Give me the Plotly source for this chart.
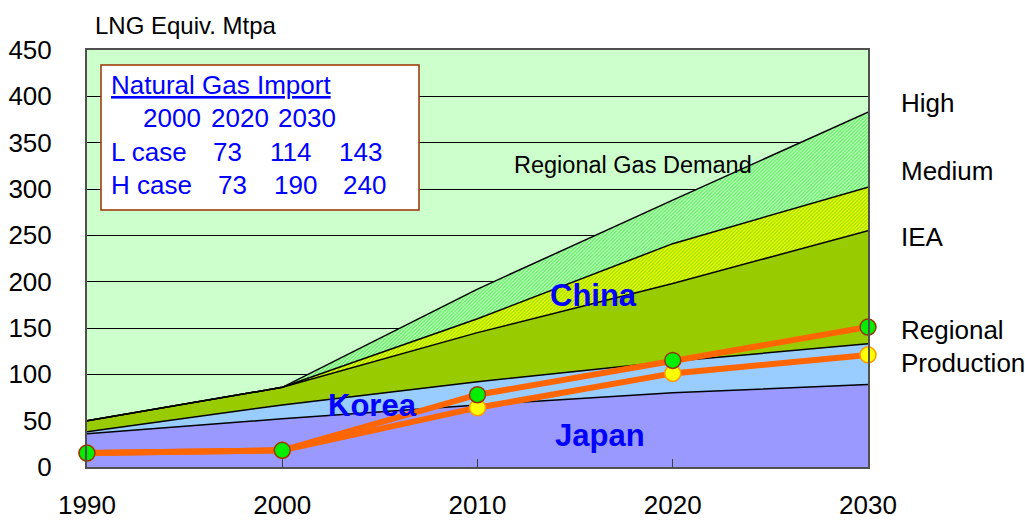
import plotly.graph_objects as go

# ---------------- data ----------------
years = [1990, 2000, 2010, 2020, 2030]
japan_top = [36, 52, 67, 80, 89]
korea_top = [38, 67, 92, 114, 133]
iea_top = [50, 86, 145, 198, 255]
medium_top = [50, 86, 160, 241, 302]
high_top = [50, 86, 192, 288, 383]
prod_high = [15, 18, 78, 115, 151]
prod_low = [15, 18, 64, 101, 121]

import_years = ["2000", "2020", "2030"]
l_case = [73, 114, 143]
h_case = [73, 190, 240]

FONT = "Liberation Sans, Arial, sans-serif"
BLUE = "#0000FF"

fig = go.Figure()

edge = dict(color="black", width=1.5)
fig.add_trace(go.Scatter(x=years, y=japan_top, mode="lines", line=edge,
                         fill="tozeroy", fillcolor="#9999FF", hoverinfo="skip"))
fig.add_trace(go.Scatter(x=years, y=korea_top, mode="lines", line=edge,
                         fill="tonexty", fillcolor="#99CCFF", hoverinfo="skip"))
fig.add_trace(go.Scatter(x=years, y=iea_top, mode="lines", line=edge,
                         fill="tonexty", fillcolor="#99CC00", hoverinfo="skip"))
fig.add_trace(go.Scatter(x=years, y=medium_top, mode="lines", line=edge,
                         fill="tonexty",
                         fillpattern=dict(shape="/", bgcolor="#88DD00", fgcolor="#FFFF00",
                                          size=2.5, solidity=0.55, fillmode="replace"),
                         hoverinfo="skip"))
fig.add_trace(go.Scatter(x=years, y=high_top, mode="lines", line=edge,
                         fill="tonexty",
                         fillpattern=dict(shape="/", bgcolor="#CCFFCC", fgcolor="#55EE55",
                                          size=2.5, solidity=0.5, fillmode="replace"),
                         hoverinfo="skip"))

fig.add_trace(go.Scatter(x=years, y=prod_low, mode="lines+markers",
                         line=dict(color="#FF6600", width=6),
                         marker=dict(size=16, color="#FFFF00", line=dict(color="#FF9900", width=1.5)),
                         cliponaxis=False, hoverinfo="skip"))
fig.add_trace(go.Scatter(x=years, y=prod_high, mode="lines+markers",
                         line=dict(color="#FF6600", width=6),
                         marker=dict(size=16, color="#00EE00", line=dict(color="#993300", width=1.5)),
                         cliponaxis=False, hoverinfo="skip"))

# plot area pixel geometry helpers (paper coordinates)
L, R, T, B = 87, 868, 50, 467
def px(xp):
    return (xp - L) / (R - L)
def py(yp):
    return (B - yp) / (B - T)

ann = []
def text(x, y, s, size, color="black", xanchor="center", bold=False):
    ann.append(dict(x=px(x), y=py(y), xref="paper", yref="paper", text=("<b>%s</b>" % s) if bold else s,
                    showarrow=False, xanchor=xanchor, yanchor="middle",
                    font=dict(family=FONT, size=size, color=color)))

text(93, 26, "LNG Equiv. Mtpa", 24, xanchor="left")
text(633, 165, "Regional Gas Demand", 23.5)
text(593, 295, "China", 31, BLUE, bold=True)
text(372, 405, "Korea", 31, BLUE, bold=True)
text(600, 435, "Japan", 31, BLUE, bold=True)
text(899, 103, "High", 26, xanchor="left")
text(899, 171, "Medium", 26, xanchor="left")
text(899, 237, "IEA", 26, xanchor="left")
text(899, 330, "Regional", 26, xanchor="left")
text(899, 363, "Production", 26, xanchor="left")

# import box
text(109, 85, "<u>Natural Gas Import</u>", 26, BLUE, xanchor="left")
for cx, yr in zip([172, 240, 307], import_years):
    text(cx, 118, yr, 26, BLUE)
text(109, 152, "L case", 26, BLUE, xanchor="left")
text(109, 185, "H case", 26, BLUE, xanchor="left")
for cx, v in zip([227, 290, 360], l_case):
    text(cx, 152, str(v), 26, BLUE)
for cx, v in zip([232, 295, 364], h_case):
    text(cx, 185, str(v), 26, BLUE)

fig.update_layout(
    width=1025, height=520,
    margin=dict(l=L, r=1025 - R, t=T, b=520 - B),
    paper_bgcolor="white", plot_bgcolor="#CCFFCC",
    showlegend=False,
    annotations=ann,
    shapes=[dict(type="rect", xref="paper", yref="paper",
                 x0=px(101), x1=px(419), y0=py(210), y1=py(65),
                 fillcolor="white", line=dict(color="#993300", width=1.5), layer="above")],
    xaxis=dict(range=[1990, 2030], tickvals=years, showgrid=False, zeroline=False,
               ticks="inside", ticklen=8, tickcolor="#404040", automargin=False,
               showline=True, linecolor="#505050", linewidth=2, mirror=True,
               tickfont=dict(family=FONT, size=26, color="black"), ticklabelstandoff=14),
    yaxis=dict(range=[0, 450], dtick=50, showgrid=True, gridcolor="black", gridwidth=1,
               zeroline=False, ticks="", showline=True, linecolor="#505050", linewidth=2, mirror=True,
               automargin=False,
               tickfont=dict(family=FONT, size=26, color="black"), ticklabelstandoff=28),
)

fig.write_html("out.html")
